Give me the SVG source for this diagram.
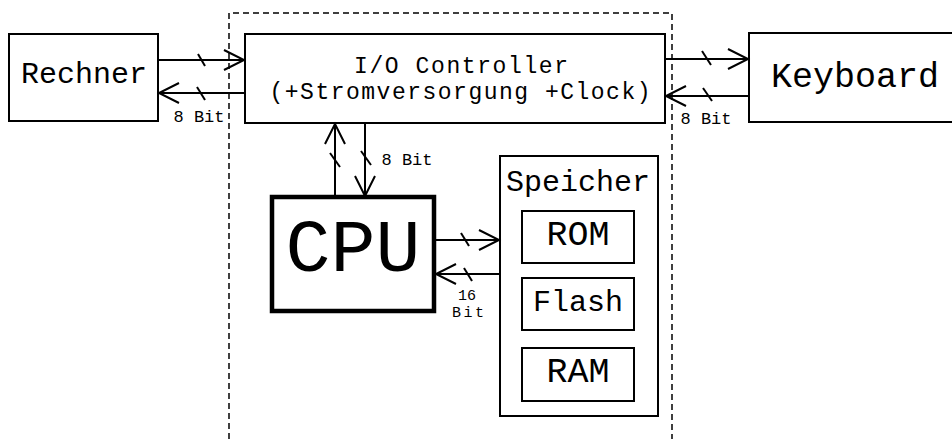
<svg xmlns="http://www.w3.org/2000/svg" width="952" height="439" viewBox="0 0 952 439">
<style>
.box{fill:#fff;stroke:#000;stroke-width:2}
.thick{fill:#fff;stroke:#000;stroke-width:4.5}
.t{font-family:"Courier New",Courier,"Nimbus Mono PS","Nimbus Mono L",FreeMono,"Liberation Mono",monospace;fill:#000;text-anchor:middle}
.ln{stroke:#000;stroke-width:2;fill:none}
.sl{stroke:#000;stroke-width:2}
.dash{stroke:#000;stroke-width:1.5;stroke-dasharray:6 4;fill:none}
</style>
<defs>
<marker id="ah" markerUnits="userSpaceOnUse" markerWidth="26" markerHeight="26" viewBox="-23 -13 26 26" refX="0" refY="0" orient="auto">
<path d="M-20,-10 L0,0 L-20,10" fill="none" stroke="#000" stroke-width="2"/>
</marker>
</defs>
<g id="boundary">
<path class="dash" d="M229,439 V13 H672 V439"/>
</g>
<g id="rechner">
<rect class="box" x="9" y="34" width="149" height="87"/>
<text class="t" x="84" y="83" font-size="30">Rechner</text>
</g>
<g id="io">
<rect class="box" x="245" y="34" width="420" height="89"/>
<text class="t" x="461" y="73" font-size="23" textLength="214" lengthAdjust="spacing">I/O Controller</text>
<text class="t" x="460" y="99" font-size="23" textLength="381" lengthAdjust="spacing">(+Stromversorgung +Clock)</text>
</g>
<g id="keyboard">
<rect class="box" x="749" y="33" width="220" height="89"/>
<text class="t" x="855" y="87" font-size="35">Keyboard</text>
</g>
<g id="cpu">
<rect class="thick" x="272" y="197" width="162" height="114"/>
<text class="t" x="353" y="271" font-size="75">CPU</text>
</g>
<g id="speicher">
<rect class="box" x="500" y="156" width="158" height="260"/>
<text class="t" x="578" y="191" font-size="30">Speicher</text>
</g>
<g id="rom">
<rect class="box" x="522" y="211" width="112" height="52"/>
<text class="t" x="578" y="245" font-size="35">ROM</text>
</g>
<g id="flash">
<rect class="box" x="522" y="278" width="112" height="52"/>
<text class="t" x="578" y="311" font-size="30">Flash</text>
</g>
<g id="ram">
<rect class="box" x="522" y="348" width="112" height="53"/>
<text class="t" x="578" y="382" font-size="35">RAM</text>
</g>
<g id="connectors">
<line class="ln" x1="158" y1="60" x2="244" y2="60" marker-end="url(#ah)"/>
<line class="sl" x1="198" y1="54" x2="205" y2="66"/>
<line class="ln" x1="245" y1="93" x2="159" y2="93" marker-end="url(#ah)"/>
<line class="sl" x1="197" y1="87" x2="205" y2="100"/>
<text class="t" x="199" y="122" font-size="17">8 Bit</text>

<line class="ln" x1="665" y1="59" x2="748" y2="59" marker-end="url(#ah)"/>
<line class="sl" x1="702" y1="51" x2="711" y2="65"/>
<line class="ln" x1="749" y1="96" x2="666" y2="96" marker-end="url(#ah)"/>
<line class="sl" x1="703" y1="88" x2="712" y2="101"/>
<text class="t" x="706" y="124" font-size="17">8 Bit</text>

<line class="ln" x1="335" y1="197" x2="335" y2="124" marker-end="url(#ah)"/>
<line class="sl" x1="330" y1="153" x2="340" y2="167"/>
<line class="ln" x1="365" y1="123" x2="365" y2="196" marker-end="url(#ah)"/>
<line class="sl" x1="361" y1="151" x2="371" y2="165"/>
<text class="t" x="407" y="165" font-size="17">8 Bit</text>

<line class="ln" x1="434" y1="240" x2="499" y2="240" marker-end="url(#ah)"/>
<line class="sl" x1="461" y1="233" x2="469" y2="246"/>
<line class="ln" x1="500" y1="274" x2="436" y2="274" marker-end="url(#ah)"/>
<line class="sl" x1="464" y1="268" x2="472" y2="281"/>
<text class="t" x="467" y="300" font-size="15">16</text>
<text class="t" x="468" y="317" font-size="15" textLength="32" lengthAdjust="spacing">Bit</text>
</g>
</svg>
